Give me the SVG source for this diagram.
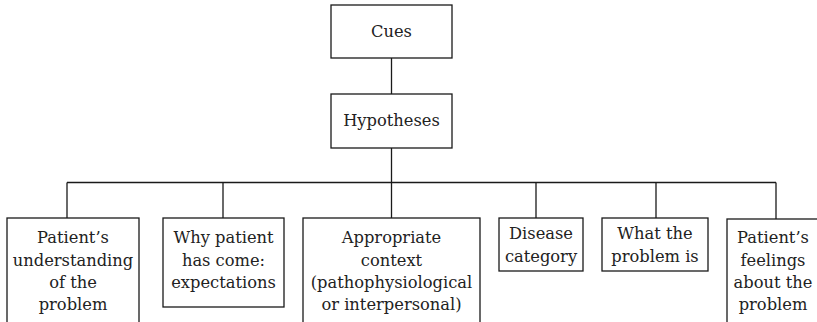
<svg xmlns="http://www.w3.org/2000/svg" width="817" height="322" viewBox="0 0 817 322">
<style>
.n rect{fill:#fff;stroke:#1a1a1a;stroke-width:1.3}
text{font-family:'DejaVu Serif',serif;font-size:16.3px;fill:#222;text-anchor:middle}
.c line{stroke:#1a1a1a;stroke-width:1.3}
</style>
<rect width="817" height="322" fill="#fff"/>
<g class="c" id="connectors">
<line x1="391.5" y1="58" x2="391.5" y2="94"/>
<line x1="391.5" y1="148" x2="391.5" y2="218"/>
<line x1="67" y1="182.5" x2="776" y2="182.5"/>
<line x1="67" y1="182.5" x2="67" y2="218"/>
<line x1="223" y1="182.5" x2="223" y2="218"/>
<line x1="536" y1="182.5" x2="536" y2="218"/>
<line x1="656" y1="182.5" x2="656" y2="218"/>
<line x1="776" y1="182.5" x2="776" y2="219"/>
</g>
<g class="n" id="cues"><rect x="331" y="5" width="121" height="53"/><text x="391.5" y="37">Cues</text></g>
<g class="n" id="hypotheses"><rect x="331" y="94" width="121" height="54"/><text x="391.5" y="126">Hypotheses</text></g>
<g class="n" id="understanding"><rect x="7" y="218" width="132" height="110"/>
<text x="73" y="243">Patient’s</text><text x="73" y="266">understanding</text><text x="73" y="288">of the</text><text x="73" y="310">problem</text></g>
<g class="n" id="why"><rect x="163" y="218" width="121" height="89"/>
<text x="223.5" y="243">Why patient</text><text x="223.5" y="266">has come:</text><text x="223.5" y="288">expectations</text></g>
<g class="n" id="context"><rect x="303" y="218" width="177" height="110"/>
<text x="391.5" y="243">Appropriate</text><text x="391.5" y="266">context</text><text x="391.5" y="288">(pathophysiological</text><text x="391.5" y="310">or interpersonal)</text></g>
<g class="n" id="disease"><rect x="499" y="218" width="84" height="53"/>
<text x="541" y="239">Disease</text><text x="541" y="262">category</text></g>
<g class="n" id="what"><rect x="602" y="218" width="106" height="53"/>
<text x="655" y="239">What the</text><text x="655" y="262">problem is</text></g>
<g class="n" id="feelings"><rect x="727" y="219" width="95" height="110"/>
<text x="773" y="243">Patient’s</text><text x="773" y="266">feelings</text><text x="773" y="288">about the</text><text x="773" y="310">problem</text></g>
</svg>
